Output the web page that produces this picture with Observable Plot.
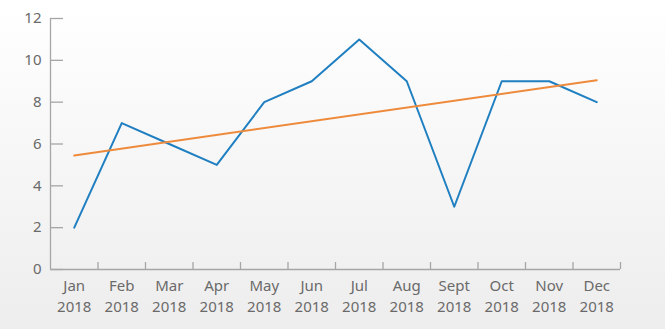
<!DOCTYPE html>
<html>
<head>
<meta charset="utf-8">
<script src="https://cdn.jsdelivr.net/npm/d3@7"></script>
<script src="https://cdn.jsdelivr.net/npm/@observablehq/plot@0.6"></script>
<style>
  html, body { margin: 0; padding: 0; }
  body { width: 665px; height: 329px; overflow: hidden;
    background: linear-gradient(to bottom, #ffffff 0%, #f7f7f7 45%, #eeeded 100%); }
  #chart svg { display: block; background: transparent; }
</style>
</head>
<body>
<div id="chart"></div>
<script>
const months = ["Jan", "Feb", "Mar", "Apr", "May", "Jun", "Jul", "Aug", "Sept", "Oct", "Nov", "Dec"];
const year = "2018";
const values = [2, 7, 6, 5, 8, 9, 11, 9, 3, 9, 9, 8];
const trendMonths = ["Jan", "Dec"];
const trendValues = [5.45, 9.05];
const yTicks = [0, 2, 4, 6, 8, 10, 12];

const idx = m => months.indexOf(m) + 1;
const series = months.map((m, i) => ({x: i + 1, y: values[i]}));
const trend = trendMonths.map((m, i) => ({x: idx(m), y: trendValues[i]}));
const centers = months.map((m, i) => i + 1);
const bounds = months.map((m, i) => i + 1.5);

const axisColor = "#a6a6a6";
const textColor = "#6a6a6a";

const chart = Plot.plot({
  width: 665,
  height: 329,
  marginLeft: 50,
  marginRight: 45,
  marginTop: 18,
  marginBottom: 60,
  style: {fontFamily: "'Noto Sans', sans-serif", fontSize: "15px", color: textColor, background: "transparent"},
  x: {type: "linear", domain: [0.5, 12.5]},
  y: {domain: [0, 12]},
  marks: [
    Plot.ruleX([0.5], {y1: 0, y2: 12, stroke: axisColor, strokeWidth: 1.3}),
    Plot.ruleY([0], {stroke: axisColor, strokeWidth: 1.3}),
    Plot.axisY(yTicks, {tickSize: -13, stroke: axisColor, tickFormat: () => "", label: null, strokeWidth: 1.3}),
    Plot.axisY(yTicks, {tickSize: 0, tickPadding: 9, fill: textColor, label: null, fontSize: 15}),
    Plot.axisX(bounds, {tickSize: -7, stroke: axisColor, tickFormat: () => "", label: null, strokeWidth: 1.3}),
    Plot.axisX(centers, {tickSize: 0, tickPadding: 10.5, fill: textColor, label: null, fontSize: 15,
      tickFormat: d => months[d - 1]}),
    Plot.axisX(centers, {tickSize: 0, tickPadding: 31.5, fill: textColor, label: null, fontSize: 15,
      tickFormat: () => year}),
    Plot.line(series, {x: "x", y: "y", stroke: "#1f7fc1", strokeWidth: 2}),
    Plot.line(trend, {x: "x", y: "y", stroke: "#ee8a3c", strokeWidth: 2})
  ]
});
document.getElementById("chart").appendChild(chart);
</script>
</body>
</html>
